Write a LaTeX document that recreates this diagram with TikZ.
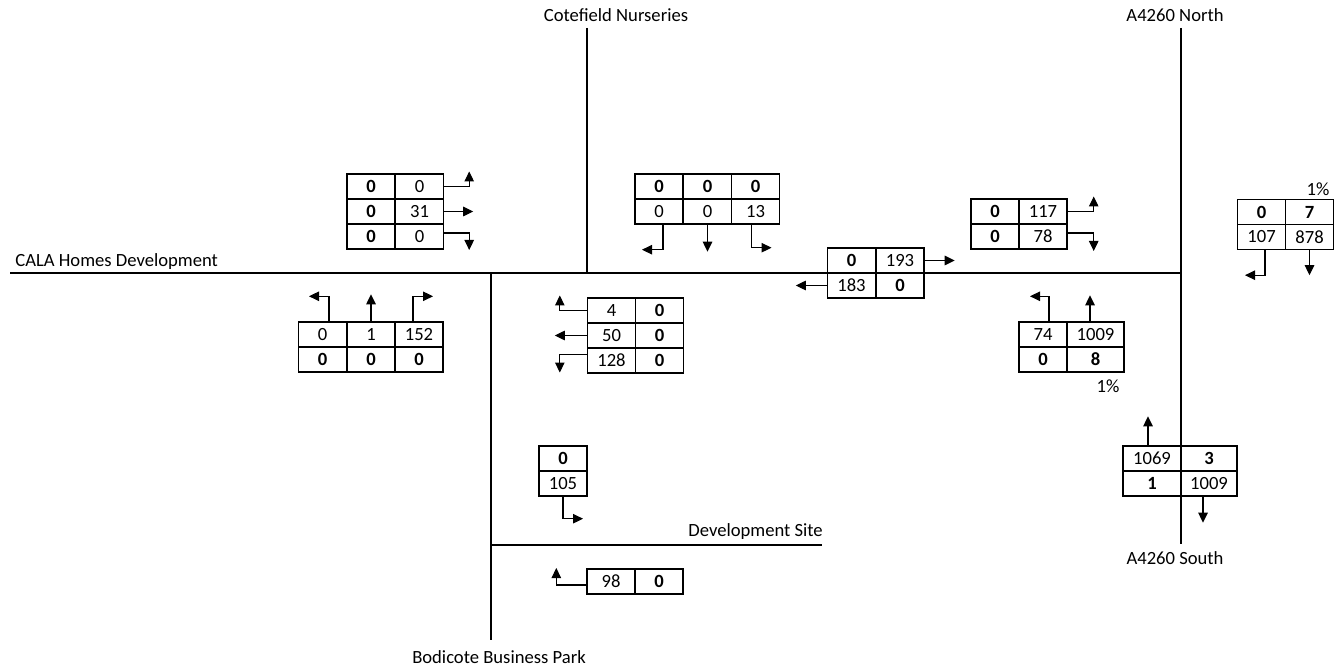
\documentclass[tikz,border=0pt]{standalone}
\usepackage{fontspec}
\setmainfont{Carlito}
\usepackage{tikz}
\usetikzlibrary{arrows.meta}
\tikzset{
  road/.style={draw,line width=1.1pt},
  cell/.style={draw,line width=.8pt,minimum width=.96cm,minimum height=.5cm,inner sep=0pt,font=\fontsize{10.6}{12}\selectfont},
  cellb/.style={cell,font=\fontsize{10.6}{12}\selectfont\bfseries},
  flow/.style={-{Triangle[length=2mm,width=1.9mm]},line width=.6pt},
  lbl/.style={inner sep=0pt,font=\fontsize{10.6}{12}\selectfont}
}
\begin{document}
\begin{tikzpicture}[x=.02cm,y=-.02cm]
  \useasboundingbox (0,0) rectangle (1337,668);
  \coordinate (cala) at (10,273);
  \coordinate (cote) at (587,28);
  \coordinate (nth) at (1181,28);
  \coordinate (sth) at (1181,544);
  \coordinate (bodi) at (491,640);
  \coordinate (dev) at (822,545);
  \draw[road] (cala) -- (cala -| nth);
  \draw[road] (cote) -- (cote |- cala);
  \draw[road] (nth) -- (sth);
  \draw[road] (bodi |- cala) -- (bodi);
  \draw[road] (bodi |- dev) -- (dev);
  \node[lbl,anchor=west] (calal) at (15,262) {CALA Homes Development};
  \node[lbl] (cotel) at (616,15) {Cotefield Nurseries};
  \node[lbl] (nthl) at (1175,15) {A4260 North};
  \node[lbl] (sthl) at (1175,558) {A4260 South};
  \node[lbl] (bodil) at (499,657) {Bodicote Business Park};
  \node[lbl,anchor=west] (devl) at (688,532) {Development Site};

  \node[cellb] (a11) at (371,186.5) {0};
  \node[cell] (a12) at (419.5,186.5) {0};
  \node[cellb] (a21) at (371,211.5) {0};
  \node[cell] (a22) at (419.5,211.5) {31};
  \node[cellb] (a31) at (371,236.5) {0};
  \node[cell] (a32) at (419.5,236.5) {0};
  \draw[flow] (a12.east) -| ++(25,-15);
  \draw[flow] (a22.east) -- ++(29,0);
  \draw[flow] ([yshift=.07cm]a32.east) -| ++(25,17);

  \node[cell] (b11) at (322.5,334.5) {0};
  \node[cell] (b12) at (371,334.5) {1};
  \node[cell] (b13) at (419,334.5) {152};
  \node[cellb] (b21) at (322.5,359.5) {0};
  \node[cellb] (b22) at (371,359.5) {0};
  \node[cellb] (b23) at (419,359.5) {0};
  \draw[flow] ([xshift=.13cm]b11.north) |- ++(-20,-25);
  \draw[flow] (b12.north) -- ++(0,-27);
  \draw[flow] ([xshift=-.12cm]b13.north) |- ++(20,-25);

  \node[cellb] (c11) at (659,186.5) {0};
  \node[cellb] (c12) at (707.5,186.5) {0};
  \node[cellb] (c13) at (755.5,186.5) {0};
  \node[cell] (c21) at (659,211.5) {0};
  \node[cell] (c22) at (707.5,211.5) {0};
  \node[cell] (c23) at (755.5,211.5) {13};
  \draw[flow] ([xshift=.08cm]c21.south) |- ++(-21,25);
  \draw[flow] (c22.south) -- ++(0,27);
  \draw[flow] ([xshift=-.08cm]c23.south) |- ++(20,23);

  \node[cell] (d11) at (611.5,310.5) {4};
  \node[cellb] (d12) at (659.5,310.5) {0};
  \node[cell] (d21) at (611.5,335.5) {50};
  \node[cellb] (d22) at (659.5,335.5) {0};
  \node[cell] (d31) at (611.5,360.5) {128};
  \node[cellb] (d32) at (659.5,360.5) {0};
  \draw[flow] (d11.west) -| ++(-27,-15);
  \draw[flow] (d21.west) -- ++(-32,0);
  \draw[flow] ([yshift=.12cm]d31.west) -| ++(-27,18);

  \node[cellb] (e11) at (851.5,260.5) {0};
  \node[cell] (e12) at (900,260.5) {193};
  \node[cell] (e21) at (851.5,285.5) {183};
  \node[cellb] (e22) at (900,285.5) {0};
  \draw[flow] (e12.east) -- ++(30,0);
  \draw[flow] (e21.west) -- ++(-31,0);

  \node[cellb] (f11) at (995,211.5) {0};
  \node[cell] (f12) at (1043,211.5) {117};
  \node[cellb] (f21) at (995,236.5) {0};
  \node[cell] (f22) at (1043,236.5) {78};
  \draw[flow] (f12.east) -| ++(26,-15);
  \draw[flow] ([yshift=.07cm]f22.east) -| ++(26,18);

  \node[cellb] (g11) at (1261.5,212) {0};
  \node[cellb] (g12) at (1309.5,212) {7};
  \node[cell] (g21) at (1261.5,237) {107};
  \node[cell] (g22) at (1309.5,237) {878};
  \node[lbl] (g1p) at (1318,189) {1\%};
  \draw[flow] ([xshift=.07cm]g21.south) |- ++(-20,25);
  \draw[flow] (g22.south) -- ++(0,25);

  \node[cell] (h11) at (1043,334.5) {74};
  \node[cell,minimum width=1.14cm] (h12) at (1095.5,334.5) {1009};
  \node[cellb] (h21) at (1043,359.5) {0};
  \node[cellb,minimum width=1.14cm] (h22) at (1095.5,359.5) {8};
  \node[lbl] (h1p) at (1108,386) {1\%};
  \draw[flow] ([xshift=.12cm]h11.north) |- ++(-19,-25);
  \draw[flow] ([xshift=-.11cm]h12.north) -- ++(0,-26);

  \node[cell,minimum width=1.16cm] (i11) at (1152,458.5) {1069};
  \node[cellb,minimum width=1.12cm] (i12) at (1209,458.5) {3};
  \node[cellb,minimum width=1.16cm] (i21) at (1152,483.5) {1};
  \node[cell,minimum width=1.12cm] (i22) at (1209,483.5) {1009};
  \draw[flow] ([xshift=-.08cm]i11.north) -- ++(0,-29);
  \draw[flow] ([xshift=-.12cm]i22.south) -- ++(0,26);

  \node[cellb] (j1) at (563,458.5) {0};
  \node[cell] (j2) at (563,483.5) {105};
  \draw[flow] (j2.south) |- ++(20,22);

  \node[cell] (k1) at (611,581.5) {98};
  \node[cellb] (k2) at (659,581.5) {0};
  \draw[flow] ([yshift=-.07cm]k1.west) -| ++(-30,-17);
\end{tikzpicture}
\end{document}
